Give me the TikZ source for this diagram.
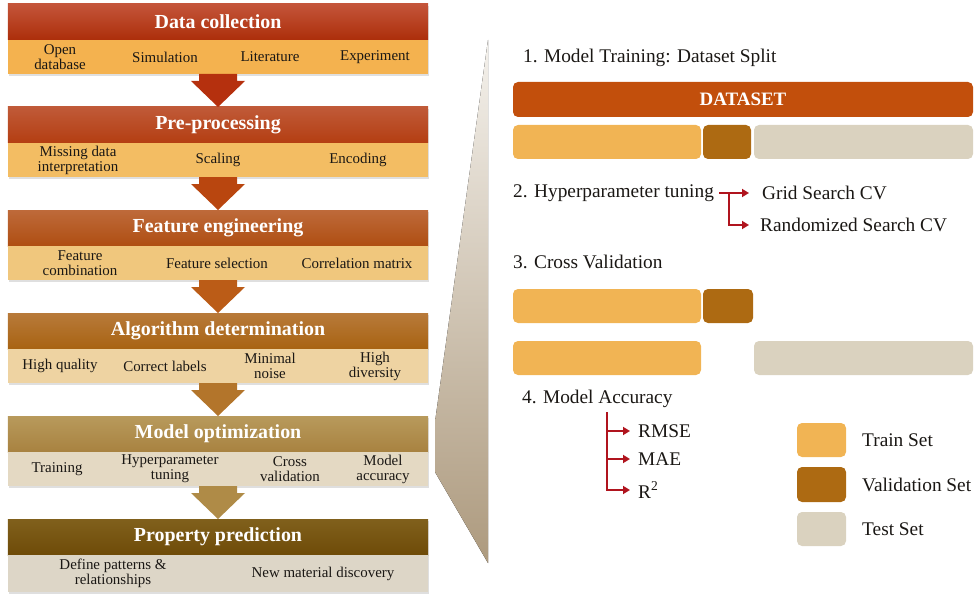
\documentclass[tikz,border=0pt]{standalone}
\usepackage{fontspec}
\setmainfont{Liberation Serif}
\usepackage{xcolor}
\usepackage{tikz}
\usetikzlibrary{positioning,arrows.meta,calc,shadows}
\definecolor{ink}      {HTML}{1A1714}
\definecolor{dchead1}  {HTML}{C4553A}
\definecolor{dchead2}  {HTML}{AC2E0A}
\definecolor{dcrow}    {HTML}{F4B24F}
\definecolor{pphead1}  {HTML}{C05A38}
\definecolor{pphead2}  {HTML}{B43E12}
\definecolor{pprow}    {HTML}{F3BD63}
\definecolor{fehead1}  {HTML}{BE6A3A}
\definecolor{fehead2}  {HTML}{AF4E12}
\definecolor{ferow}    {HTML}{F0C77D}
\definecolor{adhead1}  {HTML}{B87A3A}
\definecolor{adhead2}  {HTML}{A86312}
\definecolor{adrow}    {HTML}{EED3A2}
\definecolor{mohead1}  {HTML}{B89A5C}
\definecolor{mohead2}  {HTML}{A88240}
\definecolor{morow}    {HTML}{E4D9C3}
\definecolor{prhead1}  {HTML}{80601C}
\definecolor{prhead2}  {HTML}{6E4B08}
\definecolor{prrow}    {HTML}{DDD6C7}
\definecolor{ar1}      {HTML}{B5300E}
\definecolor{ar2}      {HTML}{B9460F}
\definecolor{ar3}      {HTML}{BB5C17}
\definecolor{ar4}      {HTML}{B3752B}
\definecolor{ar5}      {HTML}{AF8B47}
\definecolor{dsorange} {HTML}{C24F0C}
\definecolor{trainc}   {HTML}{F1B454}
\definecolor{valc}     {HTML}{AD6A12}
\definecolor{testc}    {HTML}{DAD2BF}
\definecolor{forkred}  {HTML}{B0141E}
\definecolor{funtop}   {HTML}{F4F1EC}
\definecolor{funmid}   {HTML}{CFC3B2}
\definecolor{funbot}   {HTML}{AD9A7E}
\tikzset{
  head/.style  = {minimum width=420bp, minimum height=36bp, inner sep=0pt, outer sep=0pt,
                  text=white, font=\bfseries\fontsize{20}{22}\selectfont,
                  drop shadow={opacity=0.25, shadow xshift=1bp, shadow yshift=-2bp}},
  band/.style  = {minimum width=420bp, minimum height=34bp, inner sep=0pt, outer sep=0pt,
                  drop shadow={opacity=0.25, shadow xshift=1bp, shadow yshift=-2bp}},
  cell/.style  = {font=\fontsize{15}{15}\selectfont, text=ink, align=center, inner sep=1pt},
  bar/.style   = {rounded corners=5bp, minimum height=34bp, inner sep=0pt, outer sep=0pt,
                  anchor=north west},
  stage/.style = {font=\fontsize{19.4}{21}\selectfont, text=ink, anchor=west, inner sep=2bp},
  fork/.style  = {draw=forkred, line width=2.5bp, -{Triangle[length=7bp,width=8bp]}},
}
\newcommand{\flowarrow}[3]{%
  \fill[#1] ($(#2.south)+(-19,0)$) -- ($(#3.north)+(-19,-26)$) -- ($(#3.north)+(-27,-26)$)
    -- (#3.north) -- ($(#3.north)+(27,-26)$) -- ($(#3.north)+(19,-26)$)
    -- ($(#2.south)+(19,0)$) -- cycle;}

\begin{document}
\begin{tikzpicture}[x=1bp, y=-1bp]
  \useasboundingbox (0,0) rectangle (980,595);

  % workflow
  \node[head, top color=dchead1, bottom color=dchead2] (dc) at (218,22) {Data collection};
  \node[band, fill=dcrow] (dcband) [below=0pt of dc] {};
  \foreach \x/\t [count=\i] in {52/{Open\\database}, 157/Simulation, 262/Literature, 367/Experiment}
    \node[cell] (dc\i) at ($(dcband.west)+(\x,0)$) {\t};

  \node[head, top color=pphead1, bottom color=pphead2] (pp) [below=33bp of dcband] {Pre-processing};
  \node[band, fill=pprow] (ppband) [below=0pt of pp] {};
  \foreach \x/\t [count=\i] in {70/{Missing data\\interpretation}, 210/Scaling, 350/Encoding}
    \node[cell] (pp\i) at ($(ppband.west)+(\x,0)$) {\t};

  \node[head, top color=fehead1, bottom color=fehead2] (fe) [below=33bp of ppband] {Feature engineering};
  \node[band, fill=ferow] (feband) [below=0pt of fe] {};
  \foreach \x/\t [count=\i] in {72/{Feature\\combination}, 209/Feature selection, 349/Correlation matrix}
    \node[cell] (fe\i) at ($(feband.west)+(\x,0)$) {\t};

  \node[head, top color=adhead1, bottom color=adhead2] (ad) [below=33bp of feband] {Algorithm determination};
  \node[band, fill=adrow] (adband) [below=0pt of ad] {};
  \foreach \x/\t [count=\i] in {52/High quality, 157/Correct labels, 262/{Minimal\\noise}, 367/{High\\diversity}}
    \node[cell] (ad\i) at ($(adband.west)+(\x,0)$) {\t};

  \node[head, top color=mohead1, bottom color=mohead2] (mo) [below=33bp of adband] {Model optimization};
  \node[band, fill=morow] (moband) [below=0pt of mo] {};
  \foreach \x/\t [count=\i] in {49/Training, 162/{Hyperparameter\\tuning}, 282/{Cross\\validation}, 375/{Model\\accuracy}}
    \node[cell] (mo\i) at ($(moband.west)+(\x,0)$) {\t};

  \node[head, top color=prhead1, bottom color=prhead2] (pr) [below=33bp of moband] {Property prediction};
  \node[band, fill=prrow, minimum height=37bp] (prband) [below=0pt of pr] {};
  \foreach \x/\t [count=\i] in {105/{Define patterns \&\\relationships}, 315/New material discovery}
    \node[cell] (pr\i) at ($(prband.west)+(\x,0)$) {\t};

  \flowarrow{ar1}{dcband}{pp}
  \flowarrow{ar2}{ppband}{fe}
  \flowarrow{ar3}{feband}{ad}
  \flowarrow{ar4}{adband}{mo}
  \flowarrow{ar5}{moband}{pr}

  % zoom of model optimization
  \fill[top color=funtop, middle color=funmid, bottom color=funbot]
    (488,40) -- (435,422) -- (435,472) -- (488,563) -- cycle;

  \node[stage] (s1) at (521,58) {1. Model Training: Dataset Split};
  \node[bar, fill=dsorange, minimum width=460bp, minimum height=35bp, text=white,
        font=\bfseries\fontsize{19}{20}\selectfont] (dataset) at (513,82) {DATASET};
  \node[bar, fill=trainc, minimum width=188bp] (train1) at (513,125) {};
  \node[bar, fill=valc, minimum width=48bp] (val1) [right=2bp of train1] {};
  \node[bar, fill=testc, minimum width=219bp] (test1) [right=3bp of val1] {};

  \node[stage] (s2) at (511,193) {2. Hyperparameter tuning};
  \node[stage] (grid) at (760,193) {Grid Search CV};
  \node[stage] (rand) at (758,225) {Randomized Search CV};
  \coordinate (hpfork) at ([xshift=13bp]s2.east);
  \draw[fork] ([xshift=3bp]s2.east) -- ([xshift=-11bp]grid.west);
  \draw[fork] (hpfork) |- ([xshift=-9bp]rand.west);

  \node[stage] (s3) at (511,262) {3. Cross Validation};
  \node[bar, fill=trainc, minimum width=188bp] (train2) at (513,289) {};
  \node[bar, fill=valc, minimum width=50bp] (val2) [right=2bp of train2] {};
  \node[bar, fill=trainc, minimum width=188bp] (train3) at (513,341) {};
  \node[bar, fill=testc, minimum width=219bp] (test3) [right=53bp of train3] {};

  \node[stage] (s4) at (520,399) {4. Model Accuracy};
  \node[stage] (rmse) at (636,431) {RMSE};
  \node[stage] (mae) at (636,459) {MAE};
  \node[stage] (r2) at (636,490) {R\textsuperscript{2}};
  \coordinate (accfork) at (607,412);
  \draw[fork] (accfork) |- ([xshift=-6bp]rmse.west);
  \draw[fork] (accfork) |- ([xshift=-6bp]mae.west);
  \draw[fork] (accfork) |- ([xshift=-6bp]r2.west);

  % legend
  \node[bar, fill=trainc, minimum width=49bp] (ltrain) at (797,423) {};
  \node[bar, fill=valc, minimum width=49bp, minimum height=35bp] (lval) [below=10bp of ltrain] {};
  \node[bar, fill=testc, minimum width=49bp] (ltest) [below=10bp of lval] {};
  \node[stage] [right=14bp of ltrain] (ltraintxt) {Train Set};
  \node[stage] [right=14bp of lval] (lvaltxt) {Validation Set};
  \node[stage] [right=14bp of ltest] (ltesttxt) {Test Set};
\end{tikzpicture}
\end{document}
